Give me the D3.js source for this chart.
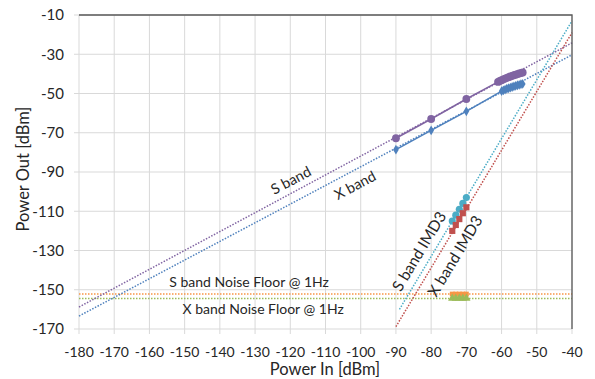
<!DOCTYPE html>
<html>
<head>
<meta charset="utf-8">
<script src="https://cdn.jsdelivr.net/npm/d3@7"></script>
<style>
  body { margin: 0; background: #fff; }
  text { font-family: Lato, "Liberation Sans", sans-serif; fill: #262626; }
</style>
</head>
<body>
<svg id="chart" width="595" height="379"></svg>
<script>
// Axis ticks
const xTicks = [-180, -170, -160, -150, -140, -130, -120, -110, -100, -90, -80, -70, -60, -50, -40];
const yTicks = [-170, -150, -130, -110, -90, -70, -50, -30, -10];

// Fundamental output power
const sBandIn  = [-90, -80, -70, -61, -60.5, -60, -59.5, -59, -58.5, -58, -57.5, -57, -56.5, -56, -55.5, -55, -54.5, -54];
const sBandOut = [-72.8, -63.0, -52.8, -44.1, -43.6, -43.2, -42.8, -42.4, -42.0, -41.7, -41.3, -41.0, -40.7, -40.4, -40.1, -39.8, -39.6, -39.3];
const xBandIn  = [-90, -80, -70, -60, -59.5, -59, -58.5, -58, -57.5, -57, -56.5, -56, -55.5, -55, -54.5, -54];
const xBandOut = [-78.6, -68.8, -59.1, -48.8, -48.4, -48.0, -47.6, -47.3, -47.0, -46.7, -46.4, -46.1, -45.8, -45.6, -45.3, -45.1];

// Third-order intermodulation products
const imdIn     = [-74, -73, -72, -71, -70];
const sImdOut   = [-115, -112, -109, -106, -103];
const xImdOut   = [-120, -117, -114, -111, -108];

// Noise floor @ 1 Hz
const sNoiseOut = [-152.2, -152.2, -152.2, -152.2, -152.2];
const xNoiseOut = [-154.4, -154.4, -154.4, -154.4, -154.4];

// Linear trendlines: [x0, x1] and [y0, y1]
const fullSpan     = [-180, -40];
const sTrend       = [-158.8, -24.2];
const xTrend       = [-163.4, -30.3];
const sImdSpan     = [-89, -40];
const sImdTrend    = [-160, -13];
const xImdSpan     = [-90, -40];
const xImdTrend    = [-168.8, -19];
const sNoiseTrend  = [-152.2, -152.2];
const xNoiseTrend  = [-154.4, -154.4];

const colors = {
  purple: "#8064A2", blue: "#4F81BD", cyan: "#4BACC6",
  red: "#C0504D", orange: "#F79646", green: "#9BBB59"
};

const svg = d3.select("#chart");
const x = d3.scaleLinear().domain([-180, -40]).range([79, 572]);
const y = d3.scaleLinear().domain([-170, -10]).range([329, 15]);

// Gridlines
svg.append("g").selectAll("line").data(xTicks).join("line")
  .attr("x1", d => x(d)).attr("x2", d => x(d))
  .attr("y1", y(-10)).attr("y2", y(-170) + 5)
  .attr("stroke", "#D9D9D9").attr("stroke-width", 1);
svg.append("g").selectAll("line").data(yTicks).join("line")
  .attr("x1", x(-180) - 5).attr("x2", x(-40))
  .attr("y1", d => y(d)).attr("y2", d => y(d))
  .attr("stroke", "#D9D9D9").attr("stroke-width", 1);

// Tick labels
svg.append("g").selectAll("text").data(xTicks).join("text")
  .attr("x", d => x(d)).attr("y", 357)
  .attr("text-anchor", "middle").attr("font-size", 14)
  .text(d => d);
svg.append("g").selectAll("text").data(yTicks).join("text")
  .attr("x", 64).attr("y", d => y(d)).attr("dy", "0.35em")
  .attr("text-anchor", "end").attr("font-size", 15)
  .text(d => d);

// Axis titles
svg.append("text").attr("x", 325).attr("y", 375)
  .attr("text-anchor", "middle").attr("font-size", 16.5).text("Power In [dBm]");
svg.append("text").attr("transform", "translate(29,169) rotate(-90)")
  .attr("text-anchor", "middle").attr("font-size", 16.5).text("Power Out [dBm]");

const plot = svg.append("g");

// Dotted trendlines
const trendlines = [
  { xs: fullSpan, ys: sNoiseTrend, c: colors.orange },
  { xs: fullSpan, ys: xNoiseTrend, c: colors.green },
  { xs: fullSpan, ys: sTrend, c: colors.purple },
  { xs: fullSpan, ys: xTrend, c: colors.blue },
  { xs: sImdSpan, ys: sImdTrend, c: colors.cyan },
  { xs: xImdSpan, ys: xImdTrend, c: colors.red }
];
plot.selectAll("line.trend").data(trendlines).join("line")
  .attr("class", "trend")
  .attr("x1", d => x(d.xs[0])).attr("x2", d => x(d.xs[1]))
  .attr("y1", d => y(d.ys[0])).attr("y2", d => y(d.ys[1]))
  .attr("stroke", d => d.c).attr("stroke-width", 1.5)
  .attr("stroke-dasharray", "1.5 1.5");

// Connected series
const line = d3.line().x(d => x(d[0])).y(d => y(d[1]));
const sPts = d3.zip(sBandIn, sBandOut);
const xPts = d3.zip(xBandIn, xBandOut);
plot.append("path").datum(sPts).attr("d", line)
  .attr("fill", "none").attr("stroke", colors.purple).attr("stroke-width", 1.5);
plot.append("path").datum(xPts).attr("d", line)
  .attr("fill", "none").attr("stroke", colors.blue).attr("stroke-width", 1.5);

function markers(pts, shape, size, color) {
  plot.append("g").selectAll("path").data(pts).join("path")
    .attr("transform", d => `translate(${x(d[0])},${y(d[1])})`)
    .attr("d", d3.symbol().type(shape).size(size))
    .attr("fill", color);
}
markers(sPts, d3.symbolCircle, 48, colors.purple);
markers(xPts, d3.symbolDiamond, 28, colors.blue);
markers(d3.zip(imdIn, sImdOut), d3.symbolCircle, 40, colors.cyan);
markers(d3.zip(imdIn, xImdOut), d3.symbolSquare, 38, colors.red);
markers(d3.zip(imdIn, sNoiseOut), d3.symbolSquare, 24, colors.orange);
markers(d3.zip(imdIn, xNoiseOut), d3.symbolTriangle, 30, colors.green);

// Annotations
const notes = [
  { t: "S band", px: -119.8, py: -94.3, r: -28, fs: 14.5 },
  { t: "X band", px: -101.6, py: -96.8, r: -28, fs: 14.5 },
  { t: "S band IMD3", px: -83.4, py: -130.4, r: -59, fs: 15.5 },
  { t: "X band IMD3", px: -73.2, py: -132.9, r: -59, fs: 15.5 },
  { t: "S band Noise Floor @ 1Hz", px: -131.7, py: -146.1, r: 0, fs: 14 },
  { t: "X band Noise Floor @ 1Hz", px: -127.7, py: -159.8, r: 0, fs: 14 }
];
svg.append("g").selectAll("text").data(notes).join("text")
  .attr("transform", d => `translate(${x(d.px)},${y(d.py)}) rotate(${d.r})`)
  .attr("text-anchor", "middle").attr("dy", "0.35em")
  .attr("font-size", d => d.fs).text(d => d.t);

// Frame: top and right axis lines
svg.append("path")
  .attr("d", `M${x(-180)},${y(-10)}H${x(-40)}V${y(-170)}`)
  .attr("fill", "none").attr("stroke", "#595959").attr("stroke-width", 1.3);
</script>
</body>
</html>
